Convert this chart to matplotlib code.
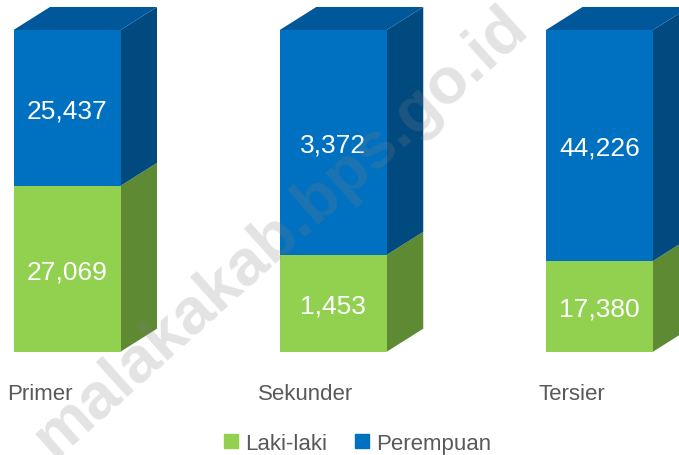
import numpy as np
import matplotlib
matplotlib.use('Agg')
import matplotlib.pyplot as plt
from matplotlib.patches import Polygon
from matplotlib.lines import Line2D

# data
categories = ['Primer', 'Sekunder', 'Tersier']
laki = [27069, 1453, 17380]
perempuan = [25437, 3372, 44226]
series_names = ['Laki-laki', 'Perempuan']

plt.rcParams['font.family'] = ['Liberation Sans', 'DejaVu Sans']

green_front, green_side = '#92D050', '#5E8A33'
blue_front, blue_top, blue_side = '#0070C0', '#00589A', '#004A80'
text_gray = '#595959'

W, H = 679, 456
fig = plt.figure(figsize=(W / 100, H / 100), dpi=100)

# axes placed so the front faces land where the reference has them
spacing = 266.25
x_first = 67.0
ax_bottom, ax_height = 103.3, 321.7
ax = fig.add_axes([0, ax_bottom / H, 1, ax_height / H])
ax.set_xlim(-x_first / spacing, (W - x_first) / spacing)
ax.set_ylim(0, 1)
ax.axis('off')

x = np.arange(len(categories))
tot = np.array(laki) + np.array(perempuan)
g = np.array(laki) / tot
b = np.array(perempuan) / tot
w = 107 / spacing
dx = 36.5 / spacing
dy = 23 / ax_height

# side and top faces (depth)
for i in range(len(categories)):
    r = x[i] + w / 2
    l = x[i] - w / 2
    side_g = Polygon([(r, 0), (r + dx, dy), (r + dx, g[i] + dy), (r, g[i])],
                     closed=True, color=green_side, lw=0, clip_on=False)
    side_b = Polygon([(r, g[i]), (r + dx, g[i] + dy), (r + dx, 1 + dy), (r, 1)],
                     closed=True, color=blue_side, lw=0, clip_on=False)
    top = Polygon([(l, 1), (l + dx, 1 + dy), (r + dx, 1 + dy), (r, 1)],
                  closed=True, color=blue_top, lw=0, clip_on=False)
    for p in (side_g, side_b, top):
        ax.add_patch(p)

# front faces
ax.bar(x, g, width=w, color=green_front, lw=0, clip_on=False)
ax.bar(x, b, bottom=g, width=w, color=blue_front, lw=0, clip_on=False)

for i in range(len(categories)):
    ax.text(x[i], g[i] / 2, f'{laki[i]:,}', ha='center', va='center_baseline',
            color='white', fontsize=19)
    ax.text(x[i], g[i] + b[i] / 2, f'{perempuan[i]:,}', ha='center',
            va='center_baseline', color='white', fontsize=19)
    ax.text(x[i] - 0.103, -0.13, categories[i], ha='center', va='center',
            color=text_gray, fontsize=16)

handles = [Line2D([], [], marker='s', ls='none', markersize=10, color=green_front),
           Line2D([], [], marker='s', ls='none', markersize=10, color=blue_front)]
fig.legend(handles, series_names, loc='center', bbox_to_anchor=(0.526, 0.026),
           ncol=2, frameon=False, fontsize=16, labelcolor=text_gray,
           handlelength=0.7, handletextpad=0.3, columnspacing=1.2)

# watermark
fig.text(0.413, 0.49, 'malakakab.bps.go.id', rotation=42, ha='center', va='center',
         fontsize=47, fontweight='bold', color='#808080', alpha=0.22)

fig.savefig('out.png', dpi=100)
